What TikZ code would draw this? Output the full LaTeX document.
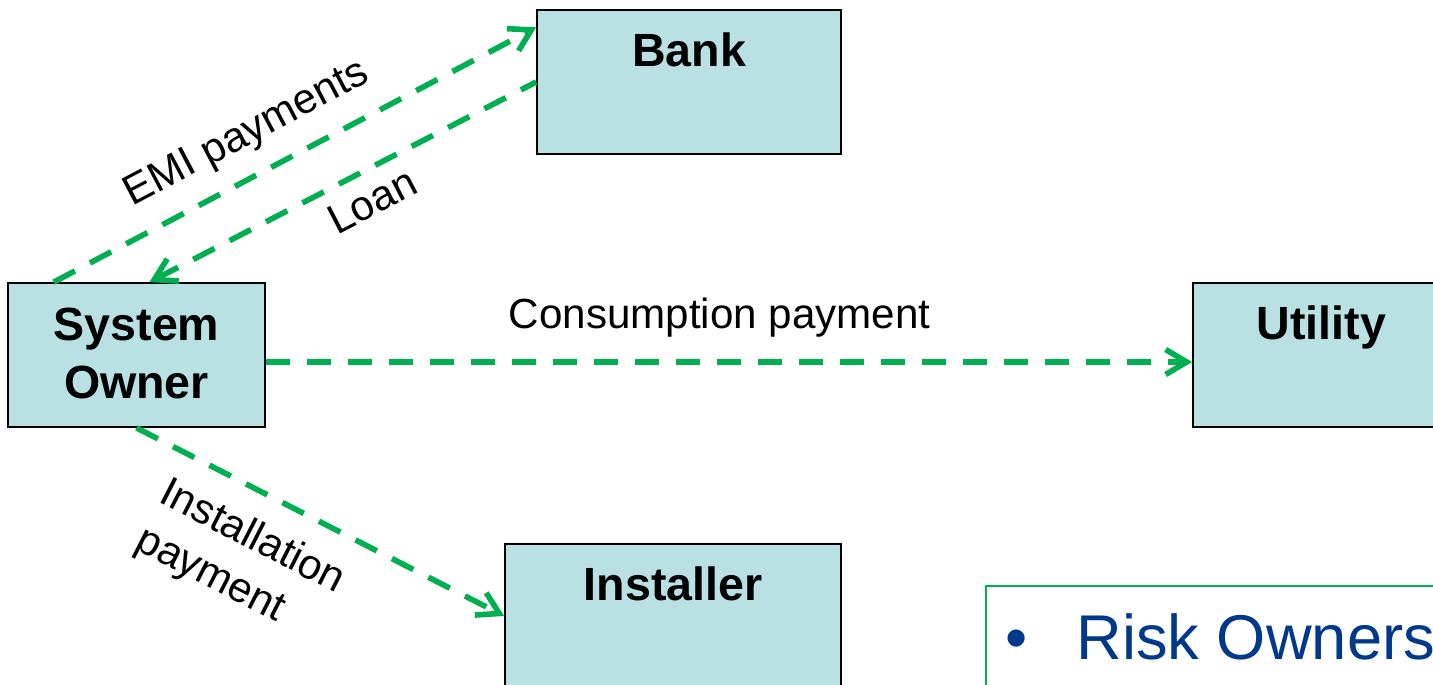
\documentclass[tikz,border=0pt]{standalone}
\usepackage{fontspec}
\setmainfont{Liberation Sans}
\usetikzlibrary{arrows.meta,calc}

\definecolor{boxfill}{RGB}{185,224,227}
\definecolor{flowgreen}{RGB}{0,176,80}
\definecolor{riskblue}{RGB}{0,56,140}

\begin{document}
\begin{tikzpicture}[
    x=0.02cm, y=-0.02cm,
    party/.style={rectangle, draw=black, line width=1pt, fill=boxfill, minimum height=2.88cm, inner sep=0pt},
    title/.style={font=\fontsize{26.5}{33}\selectfont\bfseries, align=center, anchor=north, inner sep=0pt, yshift=-0.46cm},
    flow/.style={draw=flowgreen, line width=3.2pt, dash pattern=on 0.48cm off 0.34cm, -{Straight Barb[length=0.42cm, width=0.5cm]}},
    flowlabel/.style={font=\fontsize{24}{30}\selectfont, align=center, text=black},
    riskbox/.style={rectangle, draw=flowgreen, line width=0.9pt, fill=white, anchor=north west, minimum width=10cm, minimum height=3cm}
]
\useasboundingbox (0,0) rectangle (1433,685);
\clip (0,0) rectangle (1433,685);

% Parties
\node[party, minimum width=6.08cm, label={[title]north:Bank}] (bank) at (689, 82) {};
\node[party, minimum width=5.14cm, label={[title, yshift=-0.06cm]north:{System\\Owner}}] (own) at (136.5, 355) {};
\node[party, minimum width=5.14cm, label={[title]north:Utility}] (util) at (1321.5, 355) {};
\node[party, minimum width=6.72cm, label={[title]north:Installer}] (inst) at (673, 616) {};

% Risk owners box
\node[riskbox, label={[font=\fontsize{36}{42}\selectfont, text=riskblue, anchor=base west, inner sep=0pt, xshift=0.4cm, yshift=-1.5cm]north west:{\textbullet\hspace{0.98cm}Risk Owners}}] (risk) at (985, 585) {};

% Payments and loan
\draw[flow] ($(own.north west)!0.18!(own.north east)$) -- ($(bank.north west)!0.125!(bank.south west)$)
    node[flowlabel, sloped, pos=0.44, above=0.25cm] (emi) {EMI payments};
\draw[flow, {Straight Barb[length=0.42cm, width=0.5cm]}-] ($(own.north west)!0.55!(own.north east)$) -- (bank.west)
    node[flowlabel, sloped, pos=0.54, below=0.14cm] (loan) {Loan};
\draw[flow] ($(own.east)+(0,7)$) -- ($(util.west)+(0,7)$)
    node[flowlabel, pos=0.49, above=0.32cm] (cons) {Consumption payment};
\draw[flow] (own.south) -- (inst.west)
    node[flowlabel, align=left, sloped, pos=0.37, below=0.34cm] (instpay) {Installation\\payment};

\end{tikzpicture}
\end{document}
